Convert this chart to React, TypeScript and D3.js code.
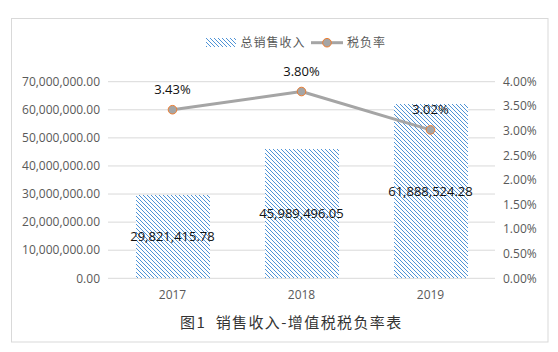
import React from 'react';
import * as d3 from 'd3';

const width = 558;
const height = 352;
const margin = { top: 81.7, left: 108, right: 63, bottom: 73.7 };

const years = ['2017', '2018', '2019'];
const revenue = [29821415.78, 45989496.05, 61888524.28];
const taxRate = [0.0343, 0.038, 0.0302];
const leftTicks = [0, 10000000, 20000000, 30000000, 40000000, 50000000, 60000000, 70000000];
const rightTicks = [0, 0.005, 0.01, 0.015, 0.02, 0.025, 0.03, 0.035, 0.04];
const legendNames = ['总销售收入', '税负率'];
const title = '图1  销售收入-增值税税负率表';

const latin = '"Open Sans", "Noto Sans", sans-serif';
const cjk = '"Noto Sans CJK SC", "Open Sans", sans-serif';
const gridColor = '#d9d9d9';
const tickColor = '#595959';
const lineColor = '#a5a5a5';
const markerStroke = '#ed7d31';
const hatchColor = '#4f93d6';

export default function App() {
    const x = d3.scaleBand<string>().domain(years).range([margin.left, width - margin.right]).padding(0);
    const yL = d3.scaleLinear().domain([0, 70000000]).range([height - margin.bottom, margin.top]);
    const yR = d3.scaleLinear().domain([0, 0.04]).range([height - margin.bottom, margin.top]);
    const barW = x.bandwidth() * 0.57;
    const cx = (d: string) => (x(d) as number) + x.bandwidth() / 2;

    const moneyFmt = d3.format(',.2f');
    const pctFmt = d3.format('.2%');

    const line = d3.line<number>()
        .x((d, i) => cx(years[i]))
        .y(d => yR(d));

    return (
        <svg width={width} height={height} style={{ position: 'absolute', left: 0, top: 0, background: '#fff' }}>
            <defs>
                <pattern id="hatch" patternUnits="userSpaceOnUse" width="4" height="4">
                    <rect width="4" height="4" fill="#fff" />
                    {[0, 1, 2, 3].map(i => (
                        <rect key={i} x={i} y={i} width="1" height="1" fill={hatchColor} shapeRendering="crispEdges" />
                    ))}
                </pattern>
            </defs>

            {/* frame */}
            <rect x={11.5} y={18.5} width={536.5} height={323.5} fill="none" stroke={gridColor} />

            {/* gridlines */}
            <g>
                {leftTicks.map(t => (
                    <line key={t} x1={margin.left} x2={width - margin.right} y1={yL(t)} y2={yL(t)} stroke={gridColor} />
                ))}
            </g>

            {/* left axis labels */}
            <g fontFamily={latin} fontSize={12} fill={tickColor} textAnchor="end">
                {leftTicks.map(t => (
                    <text key={t} x={100} y={yL(t)} dy="0.35em">{moneyFmt(t)}</text>
                ))}
            </g>

            {/* right axis labels */}
            <g fontFamily={latin} fontSize={12} fill={tickColor} textAnchor="start">
                {rightTicks.map(t => (
                    <text key={t} x={503} y={yR(t)} dy="0.35em">{pctFmt(t)}</text>
                ))}
            </g>

            {/* x labels */}
            <g fontFamily={latin} fontSize={12} fill={tickColor} textAnchor="middle">
                {years.map(d => (
                    <text key={d} x={cx(d)} y={295} dy="0.35em">{d}</text>
                ))}
            </g>

            {/* bars */}
            <g>
                {years.map((d, i) => (
                    <rect key={d} x={Math.round(cx(d) - barW / 2)} y={Math.round(yL(revenue[i]))} width={Math.round(barW)}
                        height={Math.round(yL(0)) - Math.round(yL(revenue[i]))} fill="url(#hatch)" />
                ))}
            </g>

            {/* bar labels */}
            <g fontFamily={latin} fontSize={13} fill="#111" textAnchor="middle">
                {years.map((d, i) => (
                    <text key={d} x={cx(d)} y={(yL(revenue[i]) + yL(0)) / 2} dy="0.35em">{moneyFmt(revenue[i])}</text>
                ))}
            </g>

            {/* tax rate line */}
            <path d={line(taxRate) as string} fill="none" stroke={lineColor} strokeWidth={3} strokeLinejoin="round" />
            {taxRate.map((v, i) => (
                <circle key={i} cx={cx(years[i])} cy={yR(v)} r={4.3} fill={lineColor} stroke={markerStroke} strokeWidth={1} />
            ))}
            <g fontFamily={latin} fontSize={13} fill="#111" textAnchor="middle">
                {taxRate.map((v, i) => (
                    <text key={i} x={cx(years[i])} y={yR(v) - 20} dy="0.35em">{pctFmt(v)}</text>
                ))}
            </g>

            {/* legend */}
            <g>
                <rect x={206} y={38} width={30} height={9} fill="url(#hatch)" />
                <text x={240.5} y={42.7} dy="0.35em" fontFamily={cjk} fontSize={12} letterSpacing={1} fill={tickColor}>{legendNames[0]}</text>
                <line x1={311} x2={343} y1={42.7} y2={42.7} stroke={lineColor} strokeWidth={3} />
                <circle cx={327} cy={42.7} r={4.3} fill={lineColor} stroke={markerStroke} strokeWidth={1} />
                <text x={347} y={42.7} dy="0.35em" fontFamily={cjk} fontSize={12} letterSpacing={1} fill={tickColor}>{legendNames[1]}</text>
            </g>

            {/* caption */}
            <text x={180} y={323} dy="0.35em" textAnchor="start" fontFamily={cjk} fontSize={15} letterSpacing={1.4}
                fill="#333" style={{ whiteSpace: 'pre' }}>{title}</text>
        </svg>
    );
}
